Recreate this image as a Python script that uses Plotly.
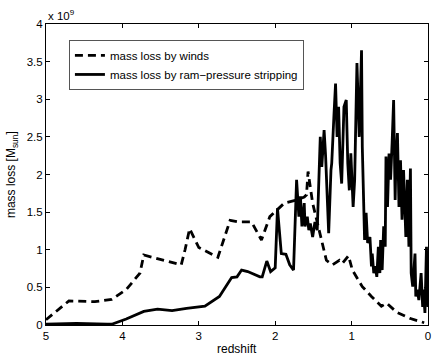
import plotly.graph_objects as go

# Mass loss by winds (dashed), redshift vs 1e9 M_sun
z_winds = [5.0, 4.70, 4.36, 4.14, 3.95, 3.77, 3.72, 3.51, 3.23, 3.18, 3.12, 3.0,
           2.75, 2.59, 2.49, 2.31, 2.18, 2.07, 1.88, 1.72, 1.62, 1.59, 1.57, 1.51,
           1.42, 1.33, 1.25, 1.16, 1.12, 1.04, 0.99, 0.86, 0.74, 0.61, 0.54, 0.41,
           0.24, 0.12, 0.05]
m_winds = [0.07, 0.32, 0.31, 0.34, 0.47, 0.69, 0.93, 0.87, 0.80, 1.00, 1.28, 1.03,
           0.90, 1.39, 1.37, 1.37, 1.13, 1.44, 1.62, 1.66, 1.70, 1.73, 2.04, 1.62,
           1.26, 0.86, 0.80, 0.86, 0.82, 0.92, 0.73, 0.51, 0.38, 0.25, 0.29, 0.17,
           0.09, 0.05, 0.03]

# Mass loss by ram-pressure stripping (solid)
z_ram = [5.0, 4.6, 4.2, 4.14, 3.95, 3.72, 3.54, 3.35, 3.16, 3.0, 2.92, 2.73,
         2.57, 2.50, 2.44, 2.36, 2.20, 2.17, 2.11, 2.06, 2.0, 1.97, 1.92, 1.86,
         1.81, 1.76, 1.72, 1.69, 1.67, 1.65, 1.62, 1.61, 1.58, 1.56, 1.54, 1.51,
         1.48, 1.45, 1.43, 1.41, 1.39, 1.36, 1.34, 1.32, 1.30, 1.27, 1.26, 1.23,
         1.21, 1.19, 1.17, 1.15, 1.13, 1.10, 1.07, 1.05, 1.03, 1.01, 0.98, 0.96,
         0.94, 0.93, 0.90, 0.87, 0.86, 0.83, 0.81, 0.79, 0.76, 0.74, 0.73, 0.71,
         0.69, 0.67, 0.65, 0.63, 0.62, 0.60, 0.58, 0.56, 0.55, 0.53, 0.51, 0.49,
         0.47, 0.45, 0.43, 0.42, 0.40, 0.38, 0.36, 0.34, 0.32, 0.29, 0.27, 0.25,
         0.23, 0.22, 0.20, 0.19, 0.17, 0.16, 0.14, 0.12, 0.09, 0.07, 0.06, 0.04,
         0.02, 0.0]
m_ram = [0.01, 0.02, 0.01, 0.01, 0.08, 0.18, 0.21, 0.19, 0.22, 0.24, 0.25, 0.38,
         0.63, 0.64, 0.73, 0.71, 0.64, 0.64, 0.85, 0.71, 0.76, 1.55, 0.95, 0.94,
         0.80, 0.73, 1.93, 1.44, 1.71, 1.31, 1.62, 1.31, 1.44, 1.26, 1.35, 1.17,
         1.37, 1.26, 2.02, 2.50, 2.10, 2.59, 2.24, 1.57, 1.22, 2.06, 2.15, 2.81,
         3.21, 2.50, 2.90, 2.15, 1.88, 2.90, 2.99, 2.15, 1.79, 2.28, 1.57, 1.93,
         2.81, 3.48, 2.50, 3.65, 2.37, 1.13, 1.49, 1.09, 1.17, 0.78, 0.95, 0.69,
         0.78, 0.64, 1.04, 0.69, 1.13, 0.73, 1.31, 1.04, 2.24, 1.57, 2.28, 1.93,
         2.41, 2.99, 1.66, 2.15, 2.55, 1.57, 2.19, 1.40, 2.06, 1.17, 1.93, 1.04,
         2.08, 0.69, 0.51, 0.64, 0.95, 0.38, 0.47, 0.33, 0.69, 0.24, 0.47, 0.16,
         1.04, 0.24]

x_ticks = [5, 4, 3, 2, 1, 0]
y_ticks = [0, 0.5, 1, 1.5, 2, 2.5, 3, 3.5, 4]

fig = go.Figure()

fig.add_trace(go.Scatter(
    x=z_winds, y=m_winds, mode="lines", name="mass loss by winds",
    line={"color": "black", "width": 2.8, "dash": "8px,5px"},
))
fig.add_trace(go.Scatter(
    x=z_ram, y=m_ram, mode="lines", name="mass loss by ram\u2212pressure stripping",
    line={"color": "black", "width": 2.8},
))

axis_common = {
    "showline": True, "linecolor": "black", "linewidth": 1, "mirror": "ticks",
    "ticks": "inside", "ticklen": 4, "tickcolor": "black", "showgrid": False,
    "zeroline": False, "tickfont": {"size": 11.5, "color": "black"},
    "automargin": False,
}

fig.update_layout(
    width=436, height=359,
    paper_bgcolor="white", plot_bgcolor="white",
    font={"family": "Liberation Sans, Arial, sans-serif", "color": "black", "size": 12},
    margin={"l": 46, "r": 8, "t": 24, "b": 34},
    xaxis={**axis_common, "range": [5, 0], "tickvals": x_ticks},
    yaxis={**axis_common, "range": [0, 4], "tickvals": y_ticks,
           "ticktext": [f"{v:g}" for v in y_ticks]},
    legend={"x": 0.06, "y": 0.947, "xanchor": "left", "yanchor": "top",
            "bordercolor": "#555", "borderwidth": 1, "bgcolor": "white",
            "font": {"size": 11.5}, "tracegroupgap": 0},
    annotations=[
        {"text": "x 10<sup>9</sup>", "xref": "paper", "yref": "paper",
         "x": 0, "y": 1, "xanchor": "left", "yanchor": "bottom",
         "showarrow": False, "font": {"size": 11.5}},
        {"text": "redshift", "xref": "paper", "yref": "paper",
         "x": 0.5, "y": -0.08, "xanchor": "center", "yanchor": "middle",
         "showarrow": False, "font": {"size": 12}},
        {"text": "mass loss [M<sub>sun</sub>]", "xref": "paper", "yref": "paper",
         "x": -0.09, "y": 0.5, "xanchor": "center", "yanchor": "middle",
         "textangle": -90, "showarrow": False, "font": {"size": 12}},
    ],
)

# drop the default 8px body margin so the figure fills the window
fig.write_html("out.html", config={"displayModeBar": False},
               post_script="document.body.style.margin = '0';")
